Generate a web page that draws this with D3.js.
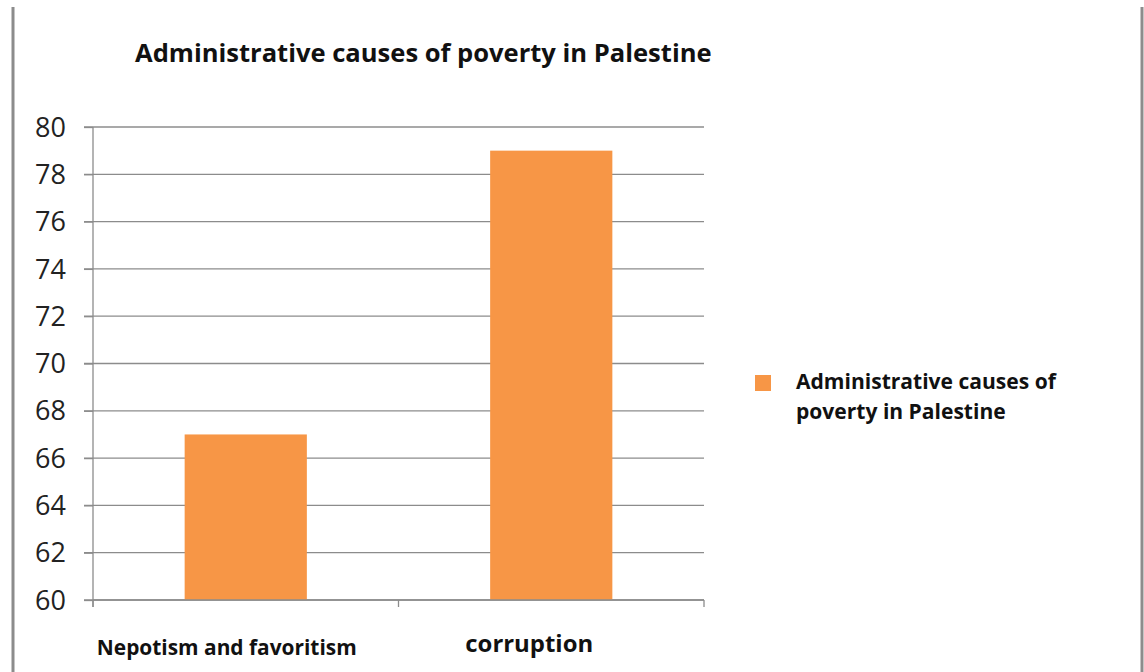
<!DOCTYPE html>
<html><head><meta charset="utf-8">
<script src="https://cdn.jsdelivr.net/npm/d3@7"></script>
<style>body{margin:0;background:#fff}svg{display:block}text{font-family:"Open Sans",sans-serif}</style>
</head><body>
<script>
const title = "Administrative causes of poverty in Palestine";
const categories = ["Nepotism and favoritism", "corruption"];
const values = [67, 79];
const seriesName = "Administrative causes of poverty in Palestine";
const yTicks = [60, 62, 64, 66, 68, 70, 72, 74, 76, 78, 80];

(function () {
const W = 1144, H = 672;
const svg = d3.select("body").append("svg").attr("width", W).attr("height", H);

// frame lines
svg.append("line").attr("x1", 13).attr("x2", 13).attr("y1", 7).attr("y2", H).attr("stroke", "#8c8c8c").attr("stroke-width", 3);
svg.append("line").attr("x1", 1142).attr("x2", 1142).attr("y1", 7).attr("y2", H).attr("stroke", "#8c8c8c").attr("stroke-width", 3);

const pL = 93, pR = 704, pT = 127, pB = 600;
const x = d3.scaleBand().domain(categories).range([pL, pR]).paddingInner(0.6).paddingOuter(0.3);
const xb = d3.scaleBand().domain(categories).range([pL, pR]).padding(0);
const y = d3.scaleLinear().domain([60, 80]).range([pB, pT]);

// gridlines
svg.append("g").selectAll("line").data(yTicks).join("line")
  .attr("x1", pL - 9).attr("x2", pR).attr("y1", d => y(d)).attr("y2", d => y(d))
  .attr("stroke", "#8c8c8c").attr("stroke-width", 1.3);

// y-axis
const ya = svg.append("g").attr("transform", `translate(${pL},0)`)
  .call(d3.axisLeft(y).tickValues(yTicks).tickSize(9).tickPadding(18).tickFormat(d3.format("d")));
ya.select(".domain").remove();
ya.selectAll(".tick line").attr("stroke", "#8c8c8c").attr("stroke-width", 1.3);
ya.selectAll("text").attr("font-size", 27).attr("fill", "#222").attr("font-family", "'Open Sans',sans-serif").attr("dy", "0.34em");
svg.append("line").attr("x1", pL).attr("x2", pL).attr("y1", pT).attr("y2", pB + 7).attr("stroke", "#8c8c8c").attr("stroke-width", 1.3);

// bars
svg.append("g").selectAll("rect").data(values).join("rect")
  .attr("x", (d, i) => x(categories[i])).attr("width", x.bandwidth())
  .attr("y", d => y(d)).attr("height", d => y(60) - y(d))
  .attr("fill", "#f79646");

// x-axis
svg.append("line").attr("x1", pL).attr("x2", pR).attr("y1", pB).attr("y2", pB).attr("stroke", "#8c8c8c").attr("stroke-width", 1.3);
const xTickPos = [pL].concat(categories.map(c => xb(c) + xb.bandwidth()));
svg.append("g").selectAll("line").data(xTickPos).join("line")
  .attr("x1", d => d).attr("x2", d => d).attr("y1", pB).attr("y2", pB + 7)
  .attr("stroke", "#8c8c8c").attr("stroke-width", 1.3);

function fit(sel, w) {
  const n = sel.node(); const fs = +sel.attr("font-size");
  const len = n.getComputedTextLength();
  sel.attr("font-size", fs * w / len);
}

// category labels
const catW = [260, 128];
const catY = [655, 652];
const catOff = [-19, -22];
categories.forEach((c, i) => {
  const t = svg.append("text").text(c).attr("font-weight", "bold").attr("font-size", 19)
    .attr("x", xb(c) + xb.bandwidth() / 2 + catOff[i]).attr("y", catY[i]).attr("text-anchor", "middle").attr("fill", "#111");
  fit(t, catW[i]);
});

// title
const tt = svg.append("text").text(title).attr("x", 135).attr("y", 62).attr("font-weight", "bold").attr("font-size", 22).attr("fill", "#111");
fit(tt, 577);

// legend
svg.append("rect").attr("x", 755).attr("y", 375).attr("width", 16).attr("height", 16).attr("fill", "#f79646");
const words = seriesName.split(" ");
const l1 = svg.append("text").text(words.slice(0, 3).join(" ")).attr("x", 796).attr("y", 389).attr("font-weight", "bold").attr("font-size", 19).attr("fill", "#111");
fit(l1, 260);
svg.append("text").text(words.slice(3).join(" ")).attr("x", 796).attr("y", 419).attr("font-weight", "bold").attr("font-size", l1.attr("font-size")).attr("fill", "#111");
})();
</script>
</body></html>
